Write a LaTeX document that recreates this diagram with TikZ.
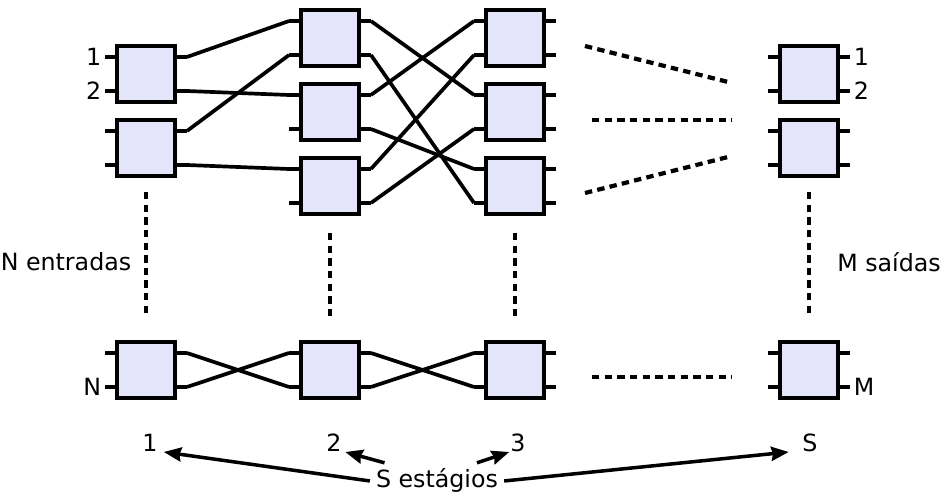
\documentclass[tikz,border=0pt]{standalone}
\usepackage{fontspec}
\setmainfont{DejaVu Sans}
\usetikzlibrary{arrows.meta}
\definecolor{boxfill}{RGB}{228,228,250}

% one 2x2 switch with its four stubs
\newcommand{\stagebox}[3]{%
  \node[sbox] (#1) at (#2,#3) {};
  \draw[wire] ([yshift=0.34cm]#1.west) -- ++(-0.2cm,0) coordinate (#1-i1);
  \draw[wire] ([yshift=-0.34cm]#1.west) -- ++(-0.2cm,0) coordinate (#1-i2);
  \draw[wire] ([yshift=0.34cm]#1.east) -- ++(0.2cm,0) coordinate (#1-o1);
  \draw[wire] ([yshift=-0.34cm]#1.east) -- ++(0.2cm,0) coordinate (#1-o2);
}

\begin{document}
\begin{tikzpicture}[
                x=0.02cm, y=-0.02cm,
                font=\fontsize{13.5}{16}\selectfont,
                sbox/.style={rectangle, draw=black, line width=2.2pt, fill=boxfill, minimum width=1.16cm, minimum height=1.12cm, inner sep=0pt},
                wire/.style={line width=2.1pt, line join=round},
                dots/.style={line width=2.4pt, dash pattern=on 4.2pt off 3pt},
                portlab/.style={inner sep=2pt},
                arr/.style={line width=2pt, -{Stealth[length=10pt, width=8pt, inset=1pt]}}
            ]%
            \useasboundingbox (0,0) rectangle (948,496);
            %
            % === stage 1 ===
            \stagebox{s1a}{146}{74}
            \stagebox{s1b}{146}{148}
            \stagebox{s1n}{146}{370}
            %
            % === stage 2 ===
            \stagebox{s2a}{330}{38}
            \stagebox{s2b}{330}{112}
            \stagebox{s2c}{330}{186}
            \stagebox{s2n}{330}{370}
            %
            % === stage 3 ===
            \stagebox{s3a}{515}{38}
            \stagebox{s3b}{515}{112}
            \stagebox{s3c}{515}{186}
            \stagebox{s3n}{515}{370}
            %
            % === stage S ===
            \stagebox{ssa}{809}{74}
            \stagebox{ssb}{809}{148}
            \stagebox{ssn}{809}{370}
            %
            % Conexiones 1 -> 2
            \draw[wire] (s1a-o1) -- (s2a-i1);
            \draw[wire] (s1a-o2) -- (s2b-i1);
            \draw[wire] (s1b-o1) -- (s2a-i2);
            \draw[wire] (s1b-o2) -- (s2c-i1);
            \draw[wire] (s1n-o1) -- (s2n-i2);
            \draw[wire] (s1n-o2) -- (s2n-i1);
            %
            % Conexiones 2 -> 3
            \draw[wire] (s2a-o1) -- (s3b-i1);
            \draw[wire] (s2a-o2) -- (s3c-i2);
            \draw[wire] (s2b-o1) -- (s3a-i1);
            \draw[wire] (s2b-o2) -- (s3c-i1);
            \draw[wire] (s2c-o1) -- (s3a-i2);
            \draw[wire] (s2c-o2) -- (s3b-i2);
            \draw[wire] (s2n-o1) -- (s3n-i2);
            \draw[wire] (s2n-o2) -- (s3n-i1);
            %
            % Etiquetas de puertos
            \node[portlab, anchor=east] (in1) at (s1a-i1) {1};
            \node[portlab, anchor=east] (in2) at (s1a-i2) {2};
            \node[portlab, anchor=east] (inN) at (s1n-i2) {N};
            \node[portlab, anchor=west] (out1) at (ssa-o1) {1};
            \node[portlab, anchor=west] (out2) at (ssa-o2) {2};
            \node[portlab, anchor=west] (outM) at (ssn-o2) {M};
            \node (nin) at (66,262) {N entradas};
            \node (nout) at (889,262) {M saídas};
            %
            % Lineas punteadas
            \coordinate (d1a) at (585,46);  \coordinate (d1b) at (732,83);
            \coordinate (d2a) at (592,120); \coordinate (d2b) at (732,120);
            \coordinate (d3a) at (585,193); \coordinate (d3b) at (732,156);
            \coordinate (d4a) at (592,377); \coordinate (d4b) at (732,377);
            \draw[dots] (d1a) -- (d1b);
            \draw[dots] (d2a) -- (d2b);
            \draw[dots] (d3a) -- (d3b);
            \draw[dots] (d4a) -- (d4b);
            \draw[dots] ([yshift=-0.28cm]s1b.south) -- ([yshift=0.46cm]s1n.north);
            \draw[dots] ([yshift=-0.34cm]s2c.south) -- ([yshift=0.42cm]s2n.north);
            \draw[dots] ([yshift=-0.34cm]s3c.south) -- ([yshift=0.42cm]s3n.north);
            \draw[dots] ([yshift=-0.28cm]ssb.south) -- ([yshift=0.46cm]ssn.north);
            %
            % Estagios
            \node[anchor=base] (n1) at (150,452) {1};
            \node[anchor=base] (n2) at (334,452) {2};
            \node[anchor=base] (n3) at (518,452) {3};
            \node[anchor=base] (nS) at (810,452) {S};
            \node[anchor=base] (stg) at (437,488) {S estágios};
            \draw[arr] (stg.west) -- (n1.base east);
            \draw[arr] ([xshift=-1.05cm]stg.north) -- ([xshift=-0.05cm]n2.base east);
            \draw[arr] ([xshift=0.8cm]stg.north) -- ([xshift=0.1cm]n3.base west);
            \draw[arr] (stg.east) -- ([xshift=-0.15cm]nS.base west);
        \end{tikzpicture}
\end{document}
